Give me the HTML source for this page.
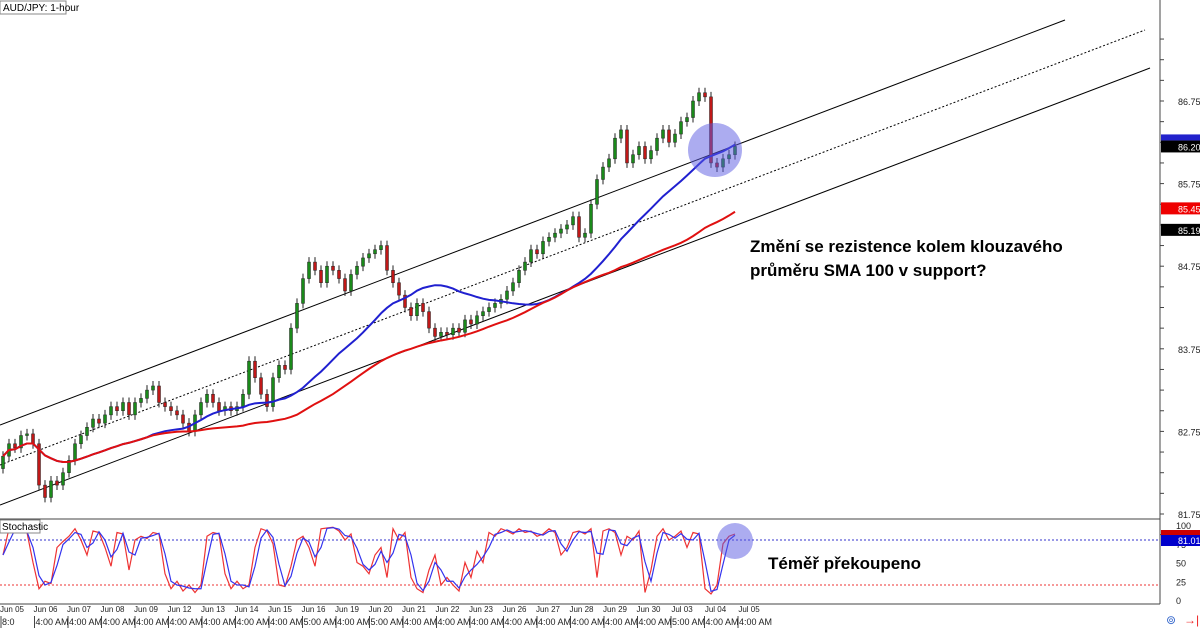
<!DOCTYPE html>
<html><head><meta charset="utf-8"><style>
body{margin:0;background:#fff;font-family:"Liberation Sans","DejaVu Sans",sans-serif}
svg text{font-family:"Liberation Sans","DejaVu Sans",sans-serif}
</style></head><body>
<svg id="c" width="1200" height="628" viewBox="0 0 1200 628">
<rect width="1200" height="628" fill="#fff"/>
<g id="chan">
<line x1="0" y1="425" x2="1065" y2="20" stroke="#000" stroke-width="1"/>
<line x1="0" y1="465" x2="1145" y2="30" stroke="#000" stroke-width="1" stroke-dasharray="2,2"/>
<line x1="0" y1="505" x2="1150" y2="68" stroke="#000" stroke-width="1"/>
</g>
<g id="candles"></g>
<g id="smas"></g>
<g id="stoch"></g>
<circle cx="715" cy="150" r="27" fill="rgba(90,90,225,0.5)"/>
<circle cx="735" cy="541" r="18" fill="rgba(90,90,225,0.5)"/>
<line x1="0" y1="519" x2="1160" y2="519" stroke="#444"/>
<line x1="0" y1="604" x2="1160" y2="604" stroke="#444"/>
<line x1="1160" y1="0" x2="1160" y2="604" stroke="#444"/>
<g id="yaxis"></g>
<g id="xaxis"></g>
<rect x="0" y="1" width="66" height="13" fill="#fff" stroke="#888"/>
<text x="3" y="11" font-size="10" fill="#000">AUD/JPY: 1-hour</text>
<rect x="0" y="520" width="40" height="13" fill="#fff" stroke="#888"/>
<text x="2" y="530" font-size="10" fill="#000">Stochastic</text>
<text x="750" y="252" font-size="17" font-weight="bold" fill="#000">Změní se rezistence kolem klouzavého</text>
<text x="750" y="276" font-size="17" font-weight="bold" fill="#000">průměru SMA 100 v support?</text>
<text x="768" y="569" font-size="17" font-weight="bold" fill="#000">Téměř překoupeno</text>
<text x="1166" y="624" font-size="12" fill="#36c">⊚</text>
<text x="1184" y="624" font-size="12" fill="#e22">→|</text>
</svg>
<script>
const closes=[82.45,82.6,82.55,82.7,82.72,82.6,82.1,81.95,82.15,82.1,82.25,82.4,82.6,82.7,82.8,82.9,82.85,82.95,83.05,83.0,83.1,82.95,83.1,83.15,83.25,83.3,83.1,83.05,83.0,82.95,82.85,82.75,82.95,83.1,83.2,83.1,83.0,83.05,83.0,83.05,83.2,83.6,83.4,83.2,83.05,83.4,83.55,83.5,84.0,84.3,84.6,84.8,84.7,84.55,84.75,84.7,84.6,84.45,84.65,84.75,84.85,84.9,84.95,85.0,84.7,84.55,84.4,84.25,84.15,84.3,84.2,84.0,83.9,83.95,83.92,84.0,83.95,84.1,84.05,84.15,84.2,84.25,84.3,84.35,84.45,84.55,84.7,84.8,84.95,84.9,85.05,85.1,85.15,85.2,85.25,85.35,85.1,85.15,85.5,85.8,85.95,86.05,86.3,86.4,86.0,86.1,86.2,86.05,86.15,86.3,86.4,86.25,86.35,86.5,86.55,86.75,86.85,86.8,86.0,85.95,86.05,86.1,86.2];
const firstOpen=82.3;
const stochK=[60,95,93,92,90,50,15,25,22,70,78,85,95,80,60,92,90,70,45,90,88,40,80,85,82,90,88,35,15,25,12,20,10,20,85,90,88,35,15,25,15,20,70,95,92,75,20,18,45,80,85,70,45,95,96,97,92,80,88,50,45,35,60,70,30,95,80,90,30,15,10,40,60,20,30,20,12,50,30,65,50,90,85,95,92,88,95,90,92,85,88,95,90,60,70,90,92,88,95,30,92,95,90,60,85,80,92,10,40,85,95,80,85,92,70,90,88,15,8,20,75,85,88];
const priceTicks=[86.75,85.75,84.75,83.75,82.75,81.75];
const stochTicks=[100,75,50,25,0];
const dayLabels=["Jun 05","Jun 06","Jun 07","Jun 08","Jun 09","Jun 12","Jun 13","Jun 14","Jun 15","Jun 16","Jun 19","Jun 20","Jun 21","Jun 22","Jun 23","Jun 26","Jun 27","Jun 28","Jun 29","Jun 30","Jul 03","Jul 04","Jul 05"];
const timeLabels=["8:0","4:00 AM","4:00 AM","4:00 AM","4:00 AM","4:00 AM","4:00 AM","4:00 AM","4:00 AM","5:00 AM","4:00 AM","5:00 AM","4:00 AM","4:00 AM","4:00 AM","4:00 AM","4:00 AM","4:00 AM","4:00 AM","4:00 AM","5:00 AM","4:00 AM","4:00 AM"];
const priceTags=[[86.20,"#000","86.20"],[85.45,"#e00","85.45"],[85.19,"#000","85.19"]];

const NS="http://www.w3.org/2000/svg";
function mk(t,a,p){const e=document.createElementNS(NS,t);for(const k in a)e.setAttribute(k,a[k]);p.appendChild(e);return e;}
const py=p=>101+(86.75-p)*82.6;
const cx=i=>3+i*6;
const sy=v=>600-v*0.75;

const cg=document.getElementById('candles');
closes.forEach((c,i)=>{
  const o=i?closes[i-1]:firstOpen;
  const up=c>=o, col=up?'#1a8a1a':'#c01818';
  const hi=Math.max(o,c)+0.06, lo=Math.min(o,c)-0.06;
  const w=mk('line',{x1:cx(i),x2:cx(i),y1:py(hi),y2:py(lo),stroke:'#222','stroke-width':1},cg);
  
  
  const b=mk('rect',{x:cx(i)-1.5,y:py(Math.max(o,c)),width:3,height:Math.max(1,Math.abs(py(o)-py(c))),fill:col,stroke:'#222','stroke-width':0.5},cg);
  
  
});

function sma(n){return closes.map((_,i)=>{const s=closes.slice(Math.max(0,i-n+1),i+1);return s.reduce((a,b)=>a+b,0)/s.length;});}
const sg=document.getElementById('smas');
[[sma(25),'#2020d0','sma-100'],[sma(50),'#e01010','sma-200']].forEach(([arr,col,nm])=>{
  const l=mk('polyline',{points:arr.map((v,i)=>cx(i)+','+py(v)).join(' '),fill:'none',stroke:col,'stroke-width':2},sg);
  
  
});

const st=document.getElementById('stoch');
[[80,'#33c'],[20,'#e33']].forEach(([v,col])=>{
  const l=mk('line',{x1:0,x2:1160,y1:sy(v),y2:sy(v),stroke:col,'stroke-dasharray':'2,2'},st);
  
  
});
const stochD=stochK.map((_,i)=>{const s=stochK.slice(Math.max(0,i-1),i+1);return s.reduce((a,b)=>a+b,0)/s.length;});
[[stochK,'#e33','stoch-k'],[stochD,'#33e','stoch-d']].forEach(([arr,col,nm])=>{
  const l=mk('polyline',{points:arr.map((v,i)=>cx(i)+','+sy(v)).join(' '),fill:'none',stroke:col,'stroke-width':1.2},st);
  
  
});

const ya=document.getElementById('yaxis');
for(let p=81.5;p<=87.5;p+=0.25){const t=mk('line',{x1:1160,x2:1164,y1:py(p),y2:py(p),stroke:'#444'},ya);

}
priceTicks.forEach(p=>{const t=mk('text',{x:1178,y:py(p)+4,'font-size':9,fill:'#222'},ya);t.textContent=p.toFixed(2);

});
priceTags.forEach(([p,col,txt])=>{const r=mk('rect',{x:1161,y:py(p)-6,width:39,height:12,fill:col},ya);


const t=mk('text',{x:1178,y:py(p)+4,'font-size':9,fill:'#fff'},ya);t.textContent=txt;

});
const bt=mk('rect',{x:1161,y:py(86.20)-12,width:39,height:6,fill:'#22c'},ya);


stochTicks.forEach(v=>{const t=mk('text',{x:1176,y:sy(v)+4,'font-size':9,fill:'#222'},ya);t.textContent=v;

});
const r1=mk('rect',{x:1161,y:530,width:39,height:6,fill:'#c00'},ya);


const r2=mk('rect',{x:1161,y:535,width:39,height:11,fill:'#00c'},ya);


const t2=mk('text',{x:1178,y:544,'font-size':9,fill:'#fff'},ya);t2.textContent='81.01';



const xa=document.getElementById('xaxis');
dayLabels.forEach((d,i)=>{const x=12+i*33.5;
const t=mk('text',{x:x,y:612,'font-size':8,fill:'#222','text-anchor':'middle'},xa);t.textContent=d;


const t3=mk('text',{x:x-10,y:625,'font-size':9,fill:'#222'},xa);t3.textContent=timeLabels[i];


const s=mk('line',{x1:x-11,x2:x-11,y1:616,y2:628,stroke:'#444'},xa);

});
</script>
</body></html>
